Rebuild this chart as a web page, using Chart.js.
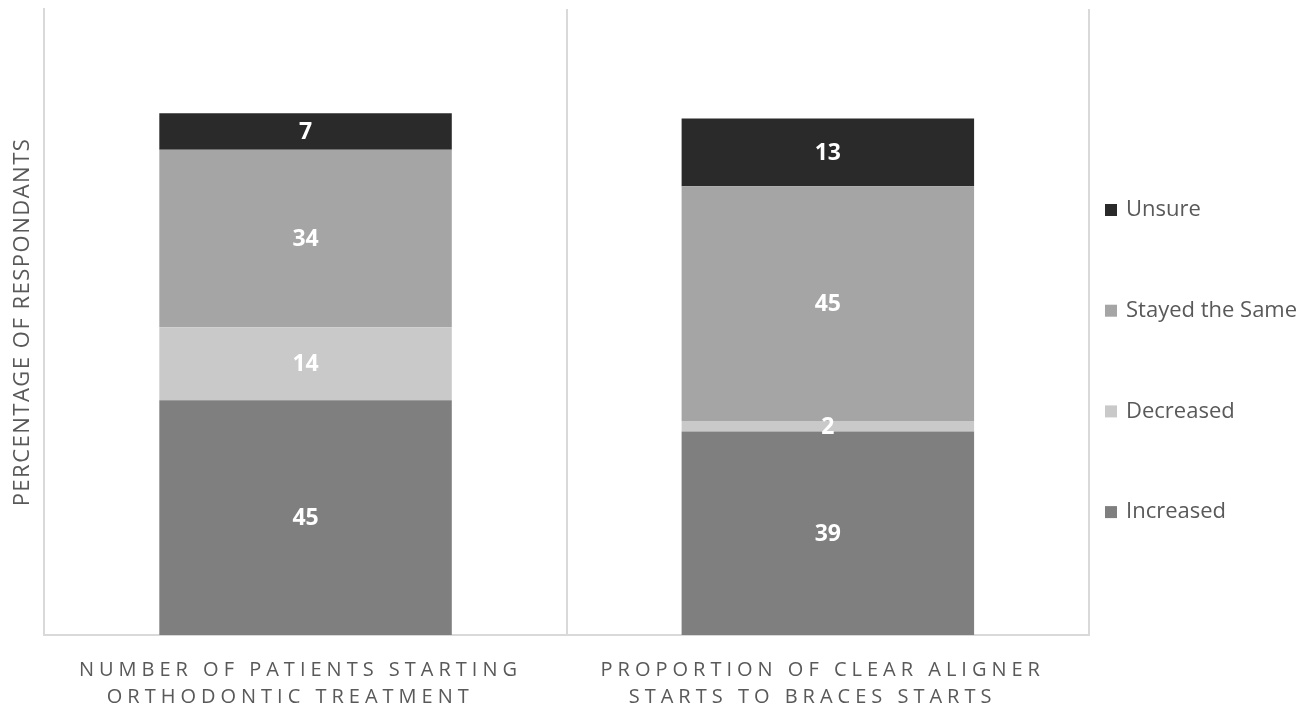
<!DOCTYPE html>
<html lang="en">
<head>
    <meta charset="UTF-8">
    <title>Respondents chart</title>
    <script src="https://cdn.jsdelivr.net/npm/chart.js"></script>
    <style>
        html, body { margin: 0; padding: 0; background: #ffffff; }
        #wrap { width: 1311px; height: 712px; }
    </style>
</head>
<body>
    <div id="wrap"><canvas id="chart"></canvas></div>
    <script>
        // data (trailing spaces keep the wrapped lines offset like the original)
        const categories = [
            ['NUMBER OF PATIENTS STARTING ', 'ORTHODONTIC TREATMENT   '],
            ['PROPORTION OF CLEAR ALIGNER ', 'STARTS TO BRACES STARTS   ']
        ];
        const seriesNames = ['Increased', 'Decreased', 'Stayed the Same', 'Unsure'];
        const increased = [45, 39];
        const decreased = [14, 2];
        const stayedSame = [34, 45];
        const unsure = [7, 13];
        const seriesColors = ['#7f7f7f', '#c9c9c9', '#a5a5a5', '#2a2a2a'];
        const yTitle = 'PERCENTAGE OF RESPONDANTS';

        const textColor = '#595959';
        const fontFamily = '"Open Sans", sans-serif';

        // value labels, legend, and letter-spacing for the axis texts
        const extras = {
            id: 'extras',
            beforeDraw(chart) {
                chart.ctx.letterSpacing = '1.5px'; // y title
            },
            beforeDatasetsDraw(chart) {
                chart.ctx.letterSpacing = '0px';
            },
            afterDatasetsDraw(chart) {
                const ctx = chart.ctx;
                ctx.save();
                ctx.fillStyle = '#ffffff';
                ctx.font = 'bold 23px ' + fontFamily;
                ctx.textAlign = 'center';
                ctx.textBaseline = 'middle';
                chart.data.datasets.forEach((ds, i) => {
                    chart.getDatasetMeta(i).data.forEach((bar, j) => {
                        ctx.fillText(ds.data[j], bar.x, (bar.y + bar.base) / 2 + 1);
                    });
                });
                ctx.restore();
                // x tick labels are drawn after this (ticks.z = 1)
                ctx.letterSpacing = '5px';
            },
            afterDraw(chart) {
                const ctx = chart.ctx;
                ctx.letterSpacing = '0px';
                const area = chart.chartArea;
                ctx.save();
                ctx.font = '22px ' + fontFamily;
                ctx.textBaseline = 'middle';
                ctx.textAlign = 'left';
                const items = chart.data.datasets.map((ds, i) => i).reverse();
                items.forEach((i, k) => {
                    const ds = chart.data.datasets[i];
                    const y = area.top + 201 + k * 100.7;
                    const x = area.right + 16;
                    ctx.fillStyle = ds.backgroundColor;
                    ctx.fillRect(x, y - 6, 12, 12);
                    ctx.fillStyle = textColor;
                    ctx.fillText(ds.label, x + 21, y);
                });
                ctx.restore();
            }
        };

        const values = [increased, decreased, stayedSame, unsure];

        new Chart(document.getElementById('chart'), {
            type: 'bar',
            data: {
                labels: categories,
                datasets: seriesNames.map((name, i) => ({
                    label: name,
                    data: values[i],
                    backgroundColor: seriesColors[i],
                    borderWidth: 0,
                    categoryPercentage: 1,
                    barPercentage: 0.56
                }))
            },
            options: {
                responsive: true,
                maintainAspectRatio: false,
                animation: false,
                layout: { padding: { top: 9, right: 222, left: 0, bottom: -20 } },
                plugins: {
                    legend: { display: false },
                    tooltip: { enabled: false }
                },
                scales: {
                    x: {
                        stacked: true,
                        grid: { offset: true, color: '#d9d9d9', lineWidth: 2, drawTicks: false },
                        border: { color: '#d9d9d9', width: 2 },
                        ticks: {
                            z: 1,
                            color: textColor,
                            padding: 21.5,
                            maxRotation: 0,
                            autoSkip: false,
                            font: { family: fontFamily, size: 20, lineHeight: 1.35 }
                        }
                    },
                    y: {
                        stacked: true,
                        min: 0,
                        max: 120,
                        grid: { display: false },
                        border: { color: '#d9d9d9', width: 2 },
                        ticks: { display: false },
                        title: {
                            display: true,
                            text: yTitle,
                            color: textColor,
                            padding: { top: 10, bottom: 0 },
                            font: { family: fontFamily, size: 22 }
                        }
                    }
                }
            },
            plugins: [extras]
        });
    </script>
</body>
</html>
